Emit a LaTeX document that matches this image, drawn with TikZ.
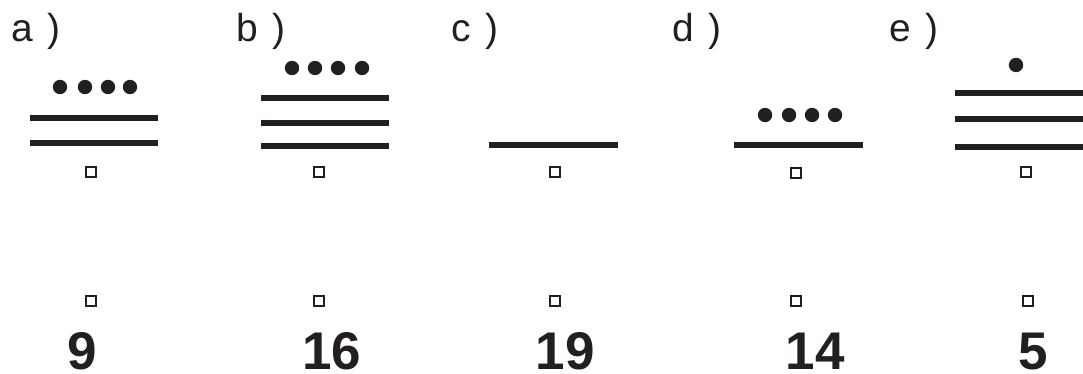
\documentclass[tikz,border=0pt]{standalone}
\usepackage{fontspec}
\setmainfont{Liberation Sans}
\usetikzlibrary{positioning}
\definecolor{ink}{HTML}{231F20}
\tikzset{
  every picture/.style={line width=1.4pt},
  letter/.style={anchor=base west, inner sep=0pt, text=ink, font=\fontsize{27.7}{30}\selectfont},
  number/.style={anchor=base, inner sep=0pt, text=ink, font=\fontsize{37.7}{40}\selectfont\bfseries},
  bar/.style={draw=ink, line width=4.3pt},
  pebble/.style={fill=ink},
  shell/.style={draw=ink, fill=white, line width=2.1pt, minimum size=0.25cm, inner sep=0pt},
}

\begin{document}
\begin{tikzpicture}[x=0.025cm, y=-0.025cm]
  \useasboundingbox (0,0) rectangle (1083,374);
  % labels
  \node[letter] (la) at (10.5,42) {a \hspace{0.1cm})};
  \node[letter] (lb) at (235.5,42) {b \hspace{0.1cm})};
  \node[letter] (lc) at (450.5,42) {c \hspace{0.1cm})};
  \node[letter] (ld) at (671.5,42) {d \hspace{0.1cm})};
  \node[letter] (le) at (888.5,42) {e \hspace{0.1cm})};
  % a) bars and dots
  \foreach \y in {118,143} \draw[bar] (30,\y) -- (158,\y);
  \foreach \x in {60,85,108,130} \fill[pebble] (\x,87) circle[radius=0.18cm];
  % b)
  \foreach \y in {98,123,146} \draw[bar] (261,\y) -- (389,\y);
  \foreach \x in {292,315,338,362} \fill[pebble] (\x,68) circle[radius=0.18cm];
  % c)
  \draw[bar] (489,145) -- (618,145);
  % d)
  \draw[bar] (734,145) -- (863,145);
  \foreach \x in {765,789,812,835} \fill[pebble] (\x,115) circle[radius=0.18cm];
  % e)
  \foreach \y in {93,119,147} \draw[bar] (955,\y) -- (1083,\y);
  \fill[pebble] (1016,65) circle[radius=0.18cm];
  % shells
  \node[shell] (sa1) at (91,172) {};
  \node[shell] (sb1) at (319,172) {};
  \node[shell] (sc1) at (555,172) {};
  \node[shell] (sd1) at (796,173) {};
  \node[shell] (se1) at (1026,172) {};
  \node[shell] (sa2) at (91,301) {};
  \node[shell] (sb2) at (319,301) {};
  \node[shell] (sc2) at (555,301) {};
  \node[shell] (sd2) at (796,301) {};
  \node[shell] (se2) at (1028,301) {};
  % values
  \node[number] (na) at (82.5,369) {9};
  \node[number] (nb) at (332,369) {16};
  \node[number] (nc) at (565,369) {19};
  \node[number] (nd) at (815,369) {14};
  \node[number] (ne) at (1033,369) {5};
\end{tikzpicture}
\end{document}
